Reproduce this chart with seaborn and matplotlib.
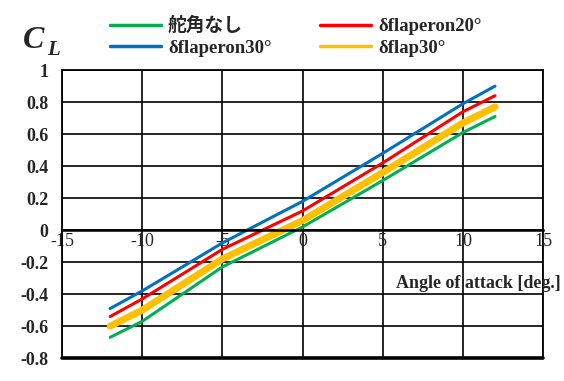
import matplotlib
matplotlib.use('Agg')
import matplotlib.pyplot as plt
import pandas as pd
import seaborn as sns

#%% DATOS

alpha = [-12, -10, -5, 0, 5, 10, 12]

cl_sin = [-0.67, -0.57, -0.23, 0.02, 0.31, 0.61, 0.71]
cl_flaperon30 = [-0.49, -0.38, -0.08, 0.18, 0.48, 0.79, 0.90]
cl_flaperon20 = [-0.54, -0.43, -0.12, 0.12, 0.42, 0.74, 0.84]
cl_flap30 = [-0.60, -0.50, -0.18, 0.06, 0.36, 0.67, 0.77]

series = ['舵角なし', 'δflaperon30°', 'δflaperon20°', 'δflap30°']
valores = [cl_sin, cl_flaperon30, cl_flaperon20, cl_flap30]
colores = ['#00b050', '#0070c0', '#ff0000', '#ffc000']
anchos = [2.2, 2.2, 2.2, 5.0]

xticks = [-15, -10, -5, 0, 5, 10, 15]
yticks = [-0.8, -0.6, -0.4, -0.2, 0, 0.2, 0.4, 0.6, 0.8, 1]
ytick_labels = ['-0.8', '-0.6', '-0.4', '-0.2', '0', '0.2', '0.4', '0.6', '0.8', '1']

#%% GRAFICO

sns.set_style('white')
plt.rcParams['font.family'] = ['Liberation Serif', 'Noto Sans CJK JP']
plt.rcParams['axes.unicode_minus'] = False

fig = plt.figure(figsize=(5.64, 3.81), dpi=100)
ax = fig.add_axes([0.110, 0.060, 0.853, 0.756])

for nombre, v, c, lw in zip(series, valores, colores, anchos):
    df = pd.DataFrame({'alpha': alpha, 'CL': v})
    sns.lineplot(data=df, x='alpha', y='CL', color=c, linewidth=lw,
                 label=nombre, ax=ax)

ax.set_xlim(-15, 15)
ax.set_ylim(-0.8, 1)
ax.set_xticks(xticks)
ax.set_yticks(yticks)
ax.set_yticklabels(ytick_labels, fontweight='bold')
ax.grid(True, color='black', linewidth=1.2)
ax.set_axisbelow(True)
ax.axhline(-0.8, color='black', linewidth=2.6, clip_on=False, zorder=0)

for s in ['top', 'right', 'left']:
    ax.spines[s].set_color('black')
    ax.spines[s].set_linewidth(1.3)
ax.spines['bottom'].set_position(('data', 0))
ax.spines['bottom'].set_color('black')
ax.spines['bottom'].set_linewidth(1.8)

ax.tick_params(axis='x', labelsize=13, pad=2, length=0)
ax.tick_params(axis='y', labelsize=13, pad=10, length=0)
ax.set_xlabel('')
ax.set_ylabel('')

fig.text(0.995, 0.255, 'Angle of attack [deg.]', fontsize=13,
         fontweight='bold', ha='right', va='center')

fig.text(0.040, 0.895, 'C', fontsize=23, fontweight='bold', fontstyle='italic',
         ha='left', va='center')
fig.text(0.083, 0.868, 'L', fontsize=15, fontweight='bold', fontstyle='italic',
         ha='left', va='center')

ax.legend_.remove()
h, l = ax.get_legend_handles_labels()
leg = fig.legend(h, l, ncol=2, loc='upper left', bbox_to_anchor=(0.165, 1.0),
                 frameon=False, handlelength=2.7, handletextpad=0.4,
                 columnspacing=2.6, labelspacing=0.25,
                 prop={'size': 13.5, 'weight': 'bold'})
for linea in leg.get_lines():
    linea.set_linewidth(2.5)

fig.savefig('out.png', dpi=100)
